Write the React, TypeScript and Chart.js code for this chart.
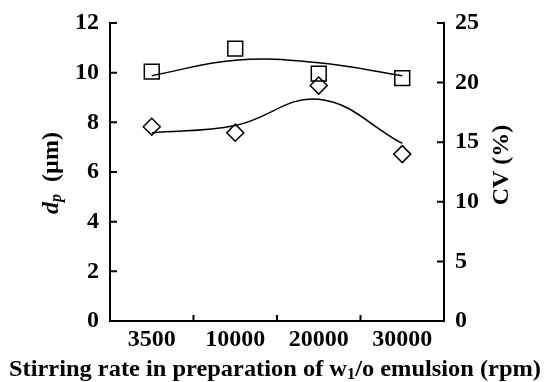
import React, { useEffect, useRef } from "react";
import { Chart, registerables } from "chart.js";

Chart.register(...registerables);

const categories = ["3500", "10000", "20000", "30000"];
const dpValues = [10.04, 10.97, 9.96, 9.78];
const cvValues = [16.3, 15.8, 19.75, 14.0];
const dpTrend = [9.88, 10.5, 10.4, 9.88];
const cvTrend = [15.8, 16.4, 18.6, 14.9];
const dpTicks = [0, 2, 4, 6, 8, 10, 12];
const cvTicks = [0, 5, 10, 15, 20, 25];

const FONT = '"Liberation Serif", "Times New Roman", serif';

type Piece = { t: string; font: string; dy?: number };

function drawPieces(ctx: CanvasRenderingContext2D, pieces: Piece[], cx: number, cy: number, rot: number, fitW?: number) {
  ctx.save();
  ctx.translate(cx, cy);
  ctx.rotate(rot);
  let total = 0;
  for (const p of pieces) {
    ctx.font = p.font;
    total += ctx.measureText(p.t).width;
  }
  if (fitW) {
    ctx.scale(fitW / total, 1);
  }
  let x = -total / 2;
  ctx.fillStyle = "#000";
  ctx.textBaseline = "middle";
  ctx.textAlign = "left";
  for (const p of pieces) {
    ctx.font = p.font;
    ctx.fillText(p.t, x, p.dy || 0);
    x += ctx.measureText(p.t).width;
  }
  ctx.restore();
}

const decorPlugin = {
  id: "decor",
  afterDraw(chart: any) {
    const ctx: CanvasRenderingContext2D = chart.ctx;
    const area = chart.chartArea;
    const yl = chart.scales.y;
    const yr = chart.scales.y1;
    const xs = chart.scales.x;
    ctx.save();
    ctx.strokeStyle = "#000";
    ctx.lineWidth = 2;
    ctx.beginPath();
    for (const v of dpTicks) {
      const y = yl.getPixelForValue(v);
      if (v === 0) continue;
      ctx.moveTo(area.left, y);
      ctx.lineTo(area.left + 7, y);
    }
    for (const v of cvTicks) {
      const y = yr.getPixelForValue(v);
      if (v === 0) continue;
      ctx.moveTo(area.right, y);
      ctx.lineTo(area.right - 7, y);
    }
    for (let i = 0; i < categories.length - 1; i++) {
      const x = (xs.getPixelForValue(i) + xs.getPixelForValue(i + 1)) / 2;
      ctx.moveTo(x, area.bottom);
      ctx.lineTo(x, area.bottom - 6);
    }
    ctx.stroke();
    ctx.restore();

    const big = `bold 24px ${FONT}`;
    const bigIt = `italic bold 24px ${FONT}`;
    const smallIt = `italic bold 16px ${FONT}`;
    const small = `bold 16px ${FONT}`;
    drawPieces(
      ctx,
      [
        { t: "d", font: bigIt },
        { t: "p", font: smallIt, dy: 5 },
        { t: "  (\u00b5m)", font: big },
      ],
      52,
      173,
      -Math.PI / 2
    );
    drawPieces(ctx, [{ t: "CV (%)", font: big }], 502, 165, -Math.PI / 2);
    drawPieces(
      ctx,
      [
        { t: "Stirring rate in preparation of w", font: big },
        { t: "1", font: small, dy: 5 },
        { t: "/o emulsion (rpm)", font: big },
      ],
      275,
      370,
      0,
      532
    );
  },
};

export default function App() {
  const ref = useRef<HTMLCanvasElement>(null);
  useEffect(() => {
    const tickFont = { family: FONT, size: 24, weight: "bold" as const };
    const chart = new Chart(ref.current!, {
      type: "line",
      data: {
        labels: categories,
        datasets: [
          {
            label: "dp",
            data: dpValues,
            yAxisID: "y",
            showLine: false,
            pointStyle: "rect",
            pointRadius: 10.5,
            pointBorderColor: "#000",
            pointBackgroundColor: "rgba(0,0,0,0)",
            pointBorderWidth: 1.5,
          },
          {
            label: "CV",
            data: cvValues,
            yAxisID: "y1",
            showLine: false,
            pointStyle: "rectRot",
            pointRadius: 8.5,
            pointBorderColor: "#000",
            pointBackgroundColor: "rgba(0,0,0,0)",
            pointBorderWidth: 1.5,
          },
          {
            label: "dp trend",
            data: dpTrend,
            yAxisID: "y",
            borderColor: "#000",
            borderWidth: 1.5,
            pointRadius: 0,
            tension: 0.4,
            fill: false,
          },
          {
            label: "CV trend",
            data: cvTrend,
            yAxisID: "y1",
            borderColor: "#000",
            borderWidth: 1.5,
            pointRadius: 0,
            tension: 0.4,
            fill: false,
          },
        ],
      },
      options: {
        responsive: false,
        animation: false,
        devicePixelRatio: 1,
        layout: { padding: { top: 23, left: 0, right: 0, bottom: 0 } },
        plugins: { legend: { display: false }, tooltip: { enabled: false } },
        scales: {
          x: {
            type: "category",
            offset: true,
            grid: { display: false, offset: true },
            border: { display: true, color: "#000", width: 2 },
            ticks: { color: "#000", font: tickFont, padding: -4, maxRotation: 0 },
            afterFit: (s: any) => {
              s.height = 61;
            },
          },
          y: {
            position: "left",
            min: 0,
            max: 12,
            grid: { display: false },
            border: { display: true, color: "#000", width: 2 },
            ticks: { color: "#000", font: tickFont, stepSize: 2, padding: 3 },
            afterFit: (s: any) => {
              s.width = 110;
            },
          },
          y1: {
            position: "right",
            min: 0,
            max: 25,
            grid: { display: false },
            border: { display: true, color: "#000", width: 2 },
            ticks: { color: "#000", font: tickFont, stepSize: 5, padding: 3 },
            afterFit: (s: any) => {
              s.width = 100;
            },
          },
        },
      },
      plugins: [decorPlugin],
    } as any);
    return () => chart.destroy();
  }, []);
  return (
    <div style={{ position: "fixed", left: 0, top: 0, width: 544, height: 382, background: "#fff" }}>
      <canvas ref={ref} width={544} height={382} style={{ display: "block" }} />
    </div>
  );
}
